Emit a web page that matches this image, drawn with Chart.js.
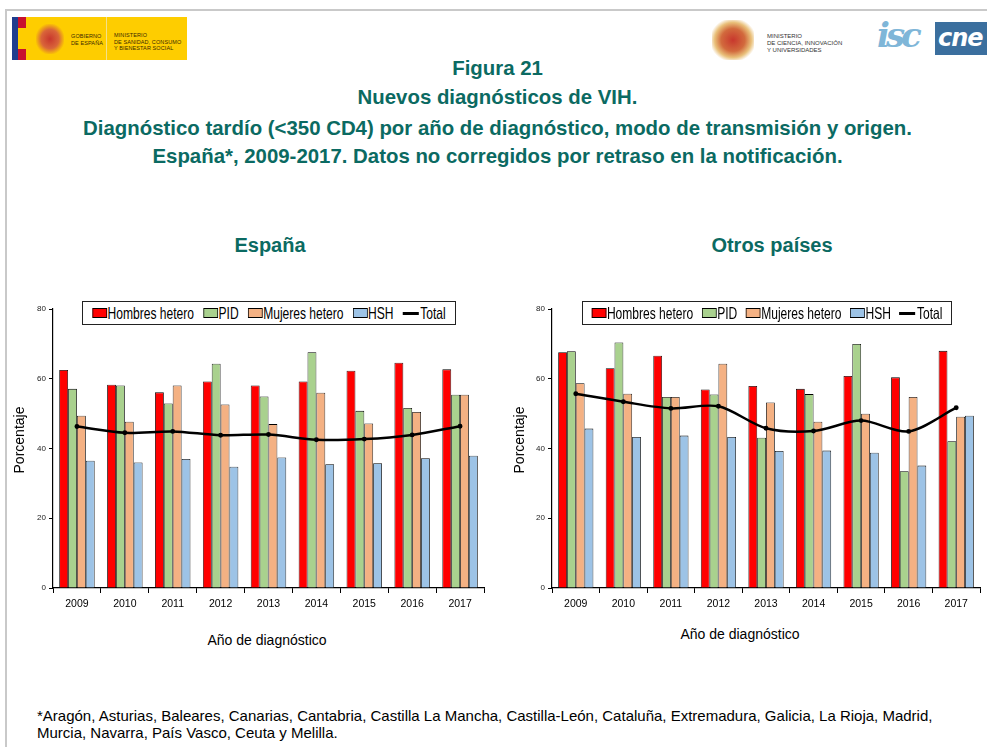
<!DOCTYPE html>
<html>
<head>
<meta charset="utf-8">
<script src="https://cdn.jsdelivr.net/npm/chart.js@4.4.1/dist/chart.umd.min.js"></script>
<style>
  html, body { margin: 0; padding: 0; background: #fff; }
  body { width: 987px; height: 747px; position: relative; overflow: hidden; font-family: "Liberation Sans", Arial, sans-serif; }
  .abs { position: absolute; }
  .frameTop { left: 5px; top: 9px; width: 982px; height: 2px; background: #c9c9c9; }
  .frameLeft { left: 5px; top: 9px; width: 2px; height: 738px; background: #c9c9c9; }
  .title { left: 0; width: 995px; text-align: center; color: #0b6a62; font-weight: bold; font-size: 20.4px; line-height: 22px; }
  .sub { color: #0b6a62; font-weight: bold; font-size: 20px; text-align: center; width: 300px; }
  .axisTitle { font-size: 14px; color: #000; white-space: nowrap; }
  .legend { border: 1px solid #222; background: #fff; height: 24px; box-sizing: border-box; overflow: hidden; }
  .legend .inner { position: absolute; left: 0; top: 0; height: 22px; display: flex; align-items: center; justify-content: space-evenly;
                   font-size: 16.5px; transform: scaleX(0.73); transform-origin: 0 0; }
  .legend span.item { display: flex; align-items: center; white-space: nowrap; }
  .legend i { display: inline-block; width: 18px; height: 8px; border: 1px solid #000; margin-right: 1px; }
  .legend b.ln { display: inline-block; width: 22px; height: 3px; background: #000; margin-right: 2px; }
  .foot { left: 37px; top: 707px; font-size: 15px; line-height: 17px; color: #000; white-space: nowrap; }
  .tiny { font-size: 5.5px; line-height: 6.5px; color: #3a2a00; letter-spacing: 0.1px; }
  .tinyR { font-size: 6px; line-height: 7px; color: #333; }
</style>
</head>
<body>
<div class="abs frameTop"></div>
<div class="abs frameLeft"></div>

<!-- left logo: Gobierno de España -->
<div class="abs" style="left:12px;top:17px;width:175px;height:43px;background:#fecd00;"></div>
<div class="abs" style="left:12px;top:17px;width:6px;height:43px;background:#1f3c8e;"></div>
<div class="abs" style="left:18px;top:17px;width:8px;height:11px;background:#c8102e;"></div>
<div class="abs" style="left:18px;top:49px;width:8px;height:11px;background:#c8102e;"></div>
<div class="abs" style="left:36px;top:24px;width:28px;height:30px;background:radial-gradient(ellipse at center,#c8372d 0,#d9653a 45%,#fecd00 75%);"></div>
<div class="abs" style="left:106px;top:17px;width:1px;height:43px;background:#f3e08a;"></div>
<div class="abs tiny" style="left:71px;top:33px;">GOBIERNO<br>DE ESPAÑA</div>
<div class="abs tiny" style="left:114px;top:32px;">MINISTERIO<br>DE SANIDAD, CONSUMO<br>Y BIENESTAR SOCIAL</div>

<!-- right logos -->
<div class="abs" style="left:712px;top:20px;width:42px;height:40px;background:radial-gradient(ellipse at center,#c8372d 0,#d26a3d 40%,#e9c07a 62%,#fff 78%);"></div>
<div class="abs tinyR" style="left:767px;top:33px;">MINISTERIO<br>DE CIENCIA, INNOVACIÓN<br>Y UNIVERSIDADES</div>
<div class="abs" style="left:877px;top:15px;font-size:34px;font-weight:bold;font-style:italic;color:#7fb6d8;font-family:'DejaVu Serif',serif;letter-spacing:-4px;">isc</div>
<div class="abs" style="left:935px;top:22px;width:52px;height:33px;background:#3b6f9e;color:#fff;font-size:24px;font-weight:bold;font-style:italic;line-height:32px;text-indent:3px;letter-spacing:-1px;font-family:'DejaVu Sans',sans-serif;overflow:hidden;">cne</div>

<div class="abs title" style="top:57px;">Figura 21</div>
<div class="abs title" style="top:86px;">Nuevos diagnósticos de VIH.</div>
<div class="abs title" style="top:117px;">Diagnóstico tardío (&lt;350 CD4) por año de diagnóstico, modo de transmisión y origen.</div>
<div class="abs title" style="top:145px;">España*, 2009-2017. Datos no corregidos por retraso en la notificación.</div>

<div class="abs sub" style="left:120px;top:234px;">España</div>
<div class="abs sub" style="left:622px;top:234px;">Otros países</div>

<canvas id="chartEsp" class="abs" style="left:0;top:290px;"></canvas>
<canvas id="chartOtr" class="abs" style="left:495px;top:290px;"></canvas>

<div id="legendEsp" class="abs legend" style="left:82px;top:301px;width:374px;"></div>
<div id="legendOtr" class="abs legend" style="left:582px;top:301px;width:370px;"></div>

<div class="abs axisTitle" style="left:-19px;top:432px;transform:rotate(-90deg);width:76px;text-align:center;">Porcentaje</div>
<div class="abs axisTitle" style="left:481px;top:432px;transform:rotate(-90deg);width:76px;text-align:center;">Porcentaje</div>
<div class="abs axisTitle" style="left:167px;top:632px;width:200px;text-align:center;">Año de diagnóstico</div>
<div class="abs axisTitle" style="left:640px;top:626px;width:200px;text-align:center;">Año de diagnóstico</div>

<div class="abs foot">*Aragón, Asturias, Baleares, Canarias, Cantabria, Castilla La Mancha, Castilla-León, Cataluña, Extremadura, Galicia, La Rioja, Madrid,<br>Murcia, Navarra, País Vasco, Ceuta y Melilla.</div>

<script>
// data (percent)
const years = ['2009', '2010', '2011', '2012', '2013', '2014', '2015', '2016', '2017']
const seriesNames = ['Hombres hetero', 'PID', 'Mujeres hetero', 'HSH', 'Total']
const seriesColors = ['#ff0000', '#a9d18e', '#f4b183', '#9dc3e6', '#000000']

const espHombres = [62.5, 58.3, 56.1, 59.2, 58.1, 59.2, 62.3, 64.6, 62.7]
const espPID     = [57.1, 58.1, 52.9, 64.3, 54.9, 67.6, 50.8, 51.6, 55.4]
const espMujeres = [49.4, 47.7, 58.1, 52.6, 47.0, 56.0, 47.2, 50.5, 55.4]
const espHSH     = [36.5, 36.0, 37.0, 34.8, 37.4, 35.5, 35.8, 37.2, 37.9]
const espTotal   = [46.3, 44.5, 44.9, 43.8, 44.0, 42.5, 42.7, 43.9, 46.4]

const otrHombres = [67.6, 63.0, 66.6, 56.9, 57.9, 57.1, 60.8, 60.4, 68.0]
const otrPID     = [67.9, 70.4, 54.8, 55.5, 43.1, 55.6, 70.0, 33.5, 42.1]
const otrMujeres = [58.7, 55.7, 54.8, 64.3, 53.2, 47.7, 50.0, 54.8, 49.1]
const otrHSH     = [45.7, 43.3, 43.7, 43.3, 39.3, 39.4, 38.8, 35.1, 49.4]
const otrTotal   = [55.7, 53.4, 51.5, 52.1, 45.8, 45.0, 48.0, 44.9, 51.7]

const yMin = 0
const yMax = 80
const yStep = 20

// legend is plain html so it can sit over the top of the plot, like the original
function buildLegend(id, boxWidth) {
  const el = document.getElementById(id)
  const inner = document.createElement('div')
  inner.className = 'inner'
  inner.style.width = (boxWidth / 0.73) + 'px'
  seriesNames.forEach((name, i) => {
    const item = document.createElement('span')
    item.className = 'item'
    if (name === 'Total') {
      item.innerHTML = '<b class="ln"></b>' + name
    } else {
      item.innerHTML = '<i style="background:' + seriesColors[i] + '"></i>' + name
    }
    inner.appendChild(item)
  })
  el.appendChild(inner)
}

function makeChart(canvasId, width, height, yWidth, padRight, values) {
  const canvas = document.getElementById(canvasId)
  canvas.width = width
  canvas.height = height
  canvas.style.width = width + 'px'
  canvas.style.height = height + 'px'

  const bars = values.slice(0, 4).map((data, i) => ({
    type: 'bar',
    label: seriesNames[i],
    data: data,
    backgroundColor: seriesColors[i],
    borderColor: '#000',
    borderWidth: 0.8,
    categoryPercentage: 0.74,
    barPercentage: 1.0,
    order: 1
  }))

  const total = {
    type: 'line',
    label: 'Total',
    data: values[4],
    borderColor: '#000',
    backgroundColor: '#000',
    borderWidth: 2.5,
    pointRadius: 1.2,
    pointStyle: 'circle',
    tension: 0.3,
    order: 0
  }

  return new Chart(canvas, {
    type: 'bar',
    data: { labels: years, datasets: bars.concat([total]) },
    options: {
      responsive: false,
      animation: false,
      layout: { padding: { left: 0, right: padRight, top: 19, bottom: 0 } },
      plugins: { legend: { display: false }, tooltip: { enabled: false } },
      scales: {
        x: {
          offset: true,
          grid: { display: true, offset: true, drawOnChartArea: false, drawTicks: true, tickLength: 5, color: '#000' },
          border: { color: '#000', width: 1.2 },
          ticks: { color: '#000', padding: 5, font: { family: 'Liberation Sans', size: 10.5 } },
          afterFit: (scale) => { scale.height = 32 }
        },
        y: {
          min: yMin,
          max: yMax,
          grid: { display: true, drawOnChartArea: false, drawTicks: true, tickLength: 4, color: '#000' },
          border: { color: '#000', width: 1.2 },
          ticks: { stepSize: yStep, color: '#222', padding: 3, font: { family: 'Liberation Sans', size: 8 } },
          afterFit: (scale) => { scale.width = yWidth }
        }
      }
    }
  })
}

buildLegend('legendEsp', 372)
buildLegend('legendOtr', 368)
makeChart('chartEsp', 495, 330, 53, 11, [espHombres, espPID, espMujeres, espHSH, espTotal])
makeChart('chartOtr', 492, 330, 57, 7, [otrHombres, otrPID, otrMujeres, otrHSH, otrTotal])
</script>
</body>
</html>
